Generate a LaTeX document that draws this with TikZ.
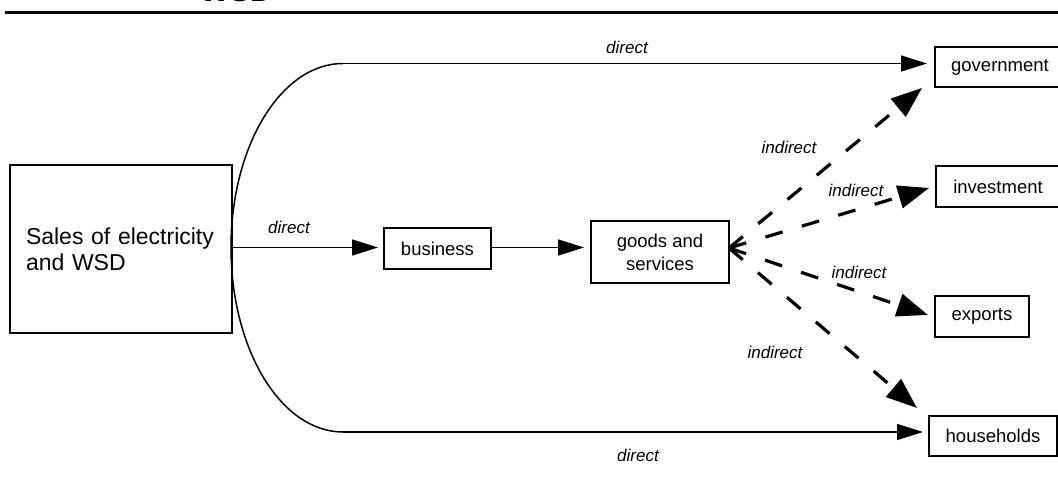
\documentclass[tikz,border=0pt]{standalone}
\usepackage{fontspec}
\setmainfont{Liberation Sans}
\usetikzlibrary{arrows.meta}
\begin{document}
\begin{tikzpicture}[x=1pt,y=-1pt,
  box/.style={draw, line width=1.4pt, inner sep=0pt, font=\fontsize{18.5}{23}\selectfont, align=center},
  lab/.style={font=\fontsize{17}{20}\selectfont\itshape, inner sep=0pt},
  conn/.style={line width=1.5pt, -{Triangle[length=26pt,width=16pt]}},
  dconn/.style={line width=3.2pt, dash pattern=on 18pt off 20pt, -{Triangle[length=31pt,width=23pt]}},
]
\useasboundingbox (0,0) rectangle (1058,489);
% title fragment and rule
\node[anchor=base west, inner sep=0pt, font=\fontsize{31}{36}\selectfont\bfseries] (title) at (200,1.5) {WSD};
\coordinate (ruleL) at (5,12.5);
\coordinate (ruleR) at (1060,12.5);
\draw[line width=2.2pt] (ruleL) -- (ruleR);

% boxes
\node[box, minimum width=222pt, minimum height=168pt, text width=190pt, align=left, font=\fontsize{23}{26}\selectfont] (sales) at (121,249) {Sales of electricity\\and WSD};
\node[box, minimum width=107pt, minimum height=41pt] (business) at (437.5,248.5) {business};
\node[box, minimum width=138pt, minimum height=62pt] (goods) at (660,252) {goods and\\services};
\node[box, minimum width=130pt, minimum height=40pt] (government) at (1000,67) {government};
\node[box, minimum width=124pt, minimum height=41pt] (investment) at (998,186.5) {investment};
\node[box, minimum width=94pt, minimum height=41pt] (exports) at (982,316.5) {exports};
\node[box, minimum width=128pt, minimum height=40pt] (households) at (993,436) {households};

% helper coordinates
\coordinate (topstart) at (343,63.5);
\coordinate (botstart) at (343,432);
\coordinate (curvemid) at (231,247.5);
\coordinate (govtip) at (927,63.5);
\coordinate (houtip) at (923,432);
\coordinate (salesout) at (232,247.5);
\coordinate (bustip) at (378,247.5);
\coordinate (busout) at (491,247.5);
\coordinate (goodstip) at (584,247.5);
\coordinate (gs) at (729,248);
\coordinate (gd1) at (922,88);
\coordinate (gd2) at (929,188);
\coordinate (gd3) at (928,315);
\coordinate (gd4) at (917,408);

% curved split
\draw[line width=1.5pt] (topstart) .. controls (281.1,63.5) and (231,145.9) .. (curvemid)
  .. controls (231,349.6) and (281.1,432) .. (botstart);

% solid connectors
\draw[conn] (topstart) -- (govtip);
\draw[conn] (botstart) -- (houtip);
\draw[conn] (salesout) -- (bustip);
\draw[conn] (busout) -- (goodstip);

% dashed connectors
\draw[dconn] (gs) -- (gd1);
\draw[dconn] (gs) -- (gd2);
\draw[dconn] (gs) -- (gd3);
\draw[dconn] (gs) -- (gd4);

% labels
\node[lab] (l1) at (627,47) {direct};
\node[lab] (l2) at (289,227) {direct};
\node[lab] (l3) at (638,455) {direct};
\node[lab] (l4) at (789,147) {indirect};
\node[lab] (l5) at (856,190) {indirect};
\node[lab] (l6) at (859,272) {indirect};
\node[lab] (l7) at (775,352) {indirect};
\end{tikzpicture}
\end{document}
